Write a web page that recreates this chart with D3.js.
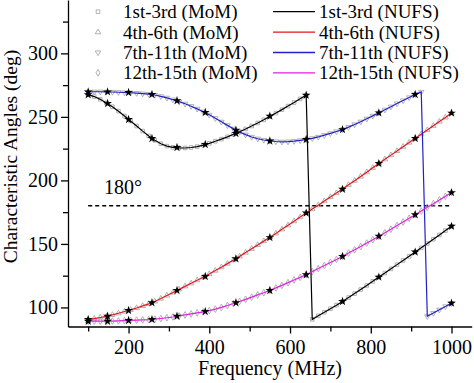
<!DOCTYPE html>
<html>
<head>
<meta charset="utf-8">
<script src="https://cdn.jsdelivr.net/npm/d3@7"></script>
<style>
  body { margin: 0; background: #fff; }
  svg { display: block; }
  svg text { font-family: "Liberation Serif", "Times New Roman", serif !important; fill: #000; }
  .axis path, .axis line { stroke: #000; stroke-width: 1.3; }
  .axis text { font-size: 20px; }
</style>
</head>
<body>
<script>
// MoM samples (every 15 MHz)
var freq = [100,115,130,145,160,175,190,205,220,235,250,265,280,295,310,325,340,355,370,385,
  400,415,430,445,460,475,490,505,520,535,550,565,580,595,610,625,640,655,670,685,
  700,715,730,745,760,775,790,805,820,835,850,865,880,895,910,925,940,955,970,985,1000];

var mom1 = [267.5,266.0,263.8,261.0,258.0,254.5,250.7,246.8,242.8,238.8,235.0,231.6,228.9,227.0,226.0,225.6,225.5,225.9,226.6,227.8,
  229.2,230.8,232.5,234.3,236.3,238.3,240.5,242.8,245.2,247.7,250.4,253.0,255.7,258.5,261.3,264.2,267.1,90.6,93.4,96.2,
  99.0,101.8,104.7,107.8,110.9,114.1,117.3,120.6,123.9,127.1,130.4,133.7,137.0,140.3,143.6,146.9,150.3,153.7,157.1,160.5,163.9];

var mom2 = [90.5,91.2,92.1,93.0,94.1,95.4,96.8,98.1,99.6,101.2,102.8,104.7,107.0,109.4,111.8,114.2,116.6,119.0,121.4,123.8,
  126.3,129.0,131.7,134.5,137.3,140.2,143.2,146.2,149.2,152.2,155.2,158.3,161.5,164.7,167.9,171.1,174.3,177.4,180.5,183.7,
  186.9,190.0,193.2,196.5,199.8,203.1,206.5,209.9,213.3,216.6,219.9,223.2,226.5,229.8,233.1,236.4,239.7,243.0,246.3,249.6,253.0];

var mom3 = [269.7,269.8,269.8,269.7,269.6,269.4,269.2,269.0,268.7,268.3,267.9,267.2,266.2,265.0,263.5,262.0,260.3,258.4,256.3,254.1,
  251.6,248.9,246.1,243.3,240.6,238.1,236.0,234.2,232.8,231.8,231.1,230.6,230.4,230.5,230.9,231.5,232.2,233.1,234.2,235.6,
  237.0,238.5,240.0,241.9,244.0,246.2,248.5,250.8,253.2,255.6,258.0,260.5,262.9,265.3,267.7,269.6,93.0,95.6,98.2,100.8,103.4];

var mom4 = [89.2,89.2,89.2,89.2,89.3,89.4,89.6,89.8,90.0,90.2,90.4,90.8,91.3,91.9,92.5,93.3,94.1,94.9,95.7,96.5,
  97.5,98.7,100.0,101.5,103.1,104.7,106.4,108.1,109.9,111.6,113.4,115.4,117.4,119.5,121.6,123.7,125.8,128.2,130.6,133.0,
  135.4,137.8,140.2,142.8,145.4,148.0,150.7,153.3,156.0,158.8,161.6,164.5,167.3,170.2,173.0,175.9,178.8,181.7,184.6,187.5,190.4];

// NUFS sample points (stars)
var starFreq = [100,148,200,258,320,390,466,550,640,730,820,910,1000];
var star1 = [267.5,260.6,248.0,233.0,225.9,228.3,237.0,250.6,267.1,104.7,123.9,143.6,163.9];
var star2 = [90.5,93.1,97.6,103.7,113.4,124.4,138.4,155.0,174.3,193.0,213.3,233.0,253.0];
var star3 = [269.7,269.7,269.2,267.7,262.7,253.5,239.5,231.1,232.2,240.0,253.2,267.7,103.4];
var star4 = [89.2,89.2,89.8,90.5,93.1,96.8,103.7,113.4,125.8,140.2,156.0,173.0,190.4];

var momNames = ["1st-3rd (MoM)", "4th-6th (MoM)", "7th-11th (MoM)", "12th-15th (MoM)"];
var nufsNames = ["1st-3rd (NUFS)", "4th-6th (NUFS)", "7th-11th (NUFS)", "12th-15th (NUFS)"];
var colors = ["#000000", "#e3151d", "#2020c8", "#e11fe0"];
var xTicks = [200, 400, 600, 800, 1000];
var yTicks = [100, 150, 200, 250, 300];

var width = 474, height = 383;
var svg = d3.select("body").append("svg")
  .attr("width", width).attr("height", height);

var x = d3.scaleLinear().domain([50, 1050]).range([68, 471.7]);
var y = d3.scaleLinear().domain([85, 342]).range([326.5, 0]);

var shapes = [d3.symbolSquare, d3.symbolTriangle, d3.symbolTriangle, d3.symbolDiamond];
var rot = [0, 0, 180, 0];

// minor ticks
svg.append("g").attr("class", "axis")
  .attr("transform", "translate(0,326.5)")
  .call(d3.axisBottom(x).tickValues([100, 300, 500, 700, 900]).tickSize(5).tickFormat(""))
  .select(".domain").remove();
svg.append("g").attr("class", "axis")
  .attr("transform", "translate(68,0)")
  .call(d3.axisLeft(y).tickValues([125, 175, 225, 275, 325]).tickSize(5).tickFormat(""))
  .select(".domain").remove();

svg.append("g").attr("class", "axis")
  .attr("transform", "translate(0,326.5)")
  .call(d3.axisBottom(x).tickValues(xTicks).tickFormat(d3.format("d"))
    .tickSizeInner(7).tickSizeOuter(0).tickPadding(6));
svg.append("g").attr("class", "axis")
  .attr("transform", "translate(68,0)")
  .call(d3.axisLeft(y).tickValues(yTicks).tickFormat(d3.format("d"))
    .tickSizeInner(7).tickSizeOuter(0).tickPadding(3));

svg.append("text")
  .attr("x", 270).attr("y", 375)
  .attr("text-anchor", "middle")
  .style("font-size", "20px")
  .text("Frequency (MHz)");

svg.append("text")
  .attr("transform", "translate(17,156.5) rotate(-90)")
  .attr("text-anchor", "middle")
  .style("font-size", "19.5px")
  .text("Characteristic Angles (deg)");

// 180 deg reference
svg.append("line")
  .attr("x1", x(100)).attr("x2", x(1000))
  .attr("y1", y(180)).attr("y2", y(180))
  .attr("stroke", "#000").attr("stroke-width", 1.5)
  .attr("stroke-dasharray", "4,3");
svg.append("text")
  .attr("x", 104).attr("y", 194)
  .style("font-size", "20px")
  .text("180°");

var momSeries = [mom1, mom2, mom3, mom4];
var starSeries = [star1, star2, star3, star4];

var line = d3.line()
  .x(function(d) { return x(d[0]); })
  .y(function(d) { return y(d[1]); });

// MoM markers
momSeries.forEach(function(s, k) {
  svg.append("g").selectAll("path")
    .data(freq.map(function(f, i) { return [f, s[i]]; }))
    .enter().append("path")
      .attr("d", d3.symbol().type(shapes[k]).size(13))
      .attr("transform", function(d) { return "translate(" + x(d[0]) + "," + y(d[1]) + ") rotate(" + rot[k] + ")"; })
      .attr("fill", "none")
      .attr("stroke", "#a0a0a0")
      .attr("stroke-width", 0.8);
});

// NUFS lines
momSeries.forEach(function(s, k) {
  svg.append("path")
    .attr("d", line(freq.map(function(f, i) { return [f, s[i]]; })))
    .attr("fill", "none")
    .attr("stroke", colors[k])
    .attr("stroke-width", 1.2);
});

// NUFS stars
starSeries.forEach(function(s) {
  svg.append("g").selectAll("path")
    .data(starFreq.map(function(f, i) { return [f, s[i]]; }))
    .enter().append("path")
      .attr("d", d3.symbol().type(d3.symbolStar).size(24))
      .attr("transform", function(d) { return "translate(" + x(d[0]) + "," + y(d[1]) + ")"; })
      .attr("fill", "#000");
});

// legend
var rowY = [11.7, 32.2, 52.5, 72.8];
var legL = svg.append("g");
momNames.forEach(function(n, k) {
  legL.append("path")
    .attr("d", d3.symbol().type(shapes[k]).size(13))
    .attr("transform", "translate(98," + rowY[k] + ") rotate(" + rot[k] + ")")
    .attr("fill", "none").attr("stroke", "#a0a0a0").attr("stroke-width", 0.8);
  legL.append("text")
    .attr("x", 123).attr("y", rowY[k] + 6.5)
    .style("font-size", "19px")
    .text(n);
});
nufsNames.forEach(function(n, k) {
  legL.append("line")
    .attr("x1", 273).attr("x2", 315)
    .attr("y1", rowY[k]).attr("y2", rowY[k])
    .attr("stroke", colors[k]).attr("stroke-width", 1.3);
  legL.append("text")
    .attr("x", 319).attr("y", rowY[k] + 6.5)
    .style("font-size", "19px")
    .text(n);
});
</script>
</body>
</html>
